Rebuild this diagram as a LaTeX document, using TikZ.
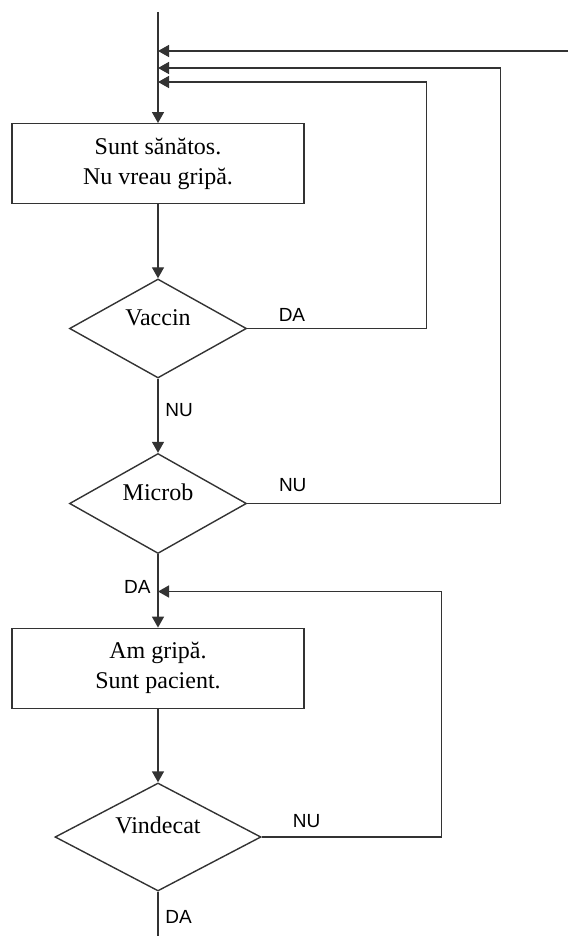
\documentclass[tikz,border=0pt]{standalone}
\usepackage{fontspec}
\setmainfont{Liberation Serif}
\setsansfont{Liberation Sans}
\usetikzlibrary{shapes.geometric,arrows.meta}

\begin{document}
\begin{tikzpicture}[x=0.5pt, y=-0.5pt,
        line/.style={draw=black!80, line width=0.7pt},
        arr/.style={line, -{Triangle[length=5.5pt,width=6pt]}},
        box/.style={line, rectangle, minimum width=146pt, minimum height=40pt,
            align=center, font=\fontsize{12}{15}\selectfont},
        cond/.style={line, diamond, aspect=2, inner sep=0pt,
            text height=8pt, text depth=11.5pt, font=\fontsize{12}{14}\selectfont},
        lbl/.style={font=\sffamily\fontsize{9.5}{11}\selectfont}]
    \useasboundingbox (0,0) rectangle (568,936);

    \coordinate (start) at (158,12);
    \coordinate (entry) at (568,51);
    \coordinate (j1) at (158,51);
    \coordinate (j2) at (158,68);
    \coordinate (j3) at (158,82);
    \coordinate (j4) at (158,591.5);
    \coordinate (stop) at (158,936);

    \node[box] (healthy) at (158,163.75) {Sunt sănătos.\\Nu vreau gripă.};
    \node[cond, minimum width=88.5pt, minimum height=49.5pt] (vaccin) at (158,328.5) {Vaccin};
    \node[cond, minimum width=88.5pt, minimum height=50pt] (microb) at (158,503.5) {Microb};
    \node[box] (patient) at (158,668.3) {Am gripă.\\Sunt pacient.};
    \node[cond, minimum width=103pt, minimum height=54pt] (vindecat) at (158,837) {Vindecat};

    % main flow
    \draw[arr] (start) -- (healthy);
    \draw[arr] (healthy) -- (vaccin);
    \draw[arr] (vaccin) -- node[lbl, right, pos=0.42] (nu1) {NU} (microb);
    \draw[arr] (microb) -- node[lbl, left, pos=0.45] (da2) {DA} (patient);
    \draw[arr] (patient) -- (vindecat);
    \draw[line] (vindecat) -- node[lbl, right, pos=0.56] (da3) {DA} (stop);

    % loops back to the main line
    \draw[arr] (entry) -- (j1);
    \draw[arr] (vaccin.east) -- node[lbl, above, pos=0.25] (da1) {DA} ++(179,0) |- (j3);
    \draw[arr] (microb.east) -- node[lbl, above, pos=0.18, yshift=2pt] (nu2) {NU} ++(253,0) |- (j2);
    \draw[arr] (vindecat.east) -- node[lbl, above, pos=0.25, yshift=1pt] (nu3) {NU} ++(180,0) |- (j4);
\end{tikzpicture}
\end{document}
